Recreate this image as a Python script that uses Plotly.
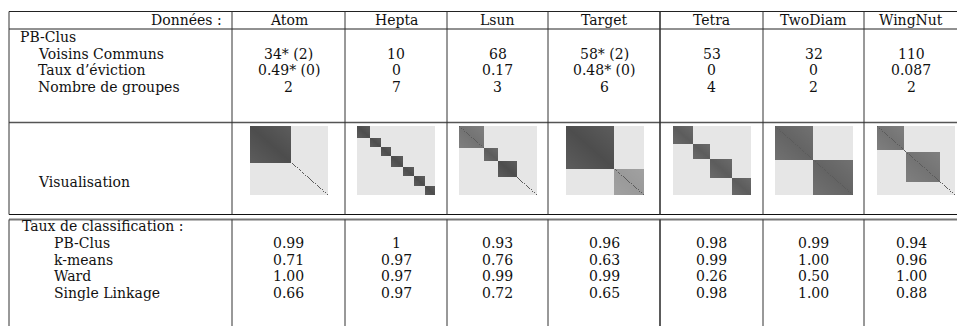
import numpy as np
import plotly.graph_objects as go

# ---------------- data ----------------
datasets = ["Atom", "Hepta", "Lsun", "Target", "Tetra", "TwoDiam", "WingNut"]
top_labels = ["Voisins Communs", "Taux d\u2019éviction", "Nombre de groupes"]
voisins = ["34* (2)", "10", "68", "58* (2)", "53", "32", "110"]
eviction = ["0.49* (0)", "0", "0.17", "0.48* (0)", "0", "0", "0.087"]
groupes = ["2", "7", "3", "6", "4", "2", "2"]
methods = ["PB-Clus", "k-means", "Ward", "Single Linkage"]
rate_pbclus = ["0.99", "1", "0.93", "0.96", "0.98", "0.99", "0.94"]
rate_kmeans = ["0.71", "0.97", "0.76", "0.63", "0.99", "1.00", "0.96"]
rate_ward = ["1.00", "0.97", "0.99", "0.99", "0.26", "0.50", "1.00"]
rate_single = ["0.66", "0.97", "0.72", "0.65", "0.98", "1.00", "0.88"]

# block structure of the similarity-matrix thumbnails (percent sizes, darkness)
block_sizes = {
    "Atom": [53, 47],
    "Hepta": [17, 14, 13, 15, 14, 14, 13],
    "Lsun": [32, 18, 24, 26],
    "Target": [62, 38],
    "Tetra": [26, 22, 27, 25],
    "TwoDiam": [49, 51],
    "WingNut": [35, 2, 44, 19],
}
block_levels = {
    "Atom": [1.0, 0.0],
    "Hepta": [1.0] * 7,
    "Lsun": [0.75, 0.9, 1.0, 0.0],
    "Target": [1.0, 0.5],
    "Tetra": [0.9, 0.9, 0.9, 0.9],
    "TwoDiam": [0.85, 0.85],
    "WingNut": [0.75, 0.0, 0.75, 0.0],
}

# ---------------- layout geometry (pixels) ----------------
W, H = 957, 326
col_edges = [9, 232, 345, 447, 548, 660, 763, 864, 957]
centers = [(col_edges[i + 1] + col_edges[i + 2]) / 2 for i in range(7)]
centers[-1] = 911

fig = go.Figure()
fig.add_trace(go.Scatter(x=[0, W], y=[0, H], mode="markers",
                         marker=dict(opacity=0), hoverinfo="skip", showlegend=False))

FONT = dict(family="DejaVu Serif", size=14, color="#111")
ann = []


def txt(x, y, s, anchor="center"):
    ann.append(dict(x=x, y=y, xref="x", yref="y", text=s, showarrow=False,
                    xanchor=anchor, yanchor="middle", font=FONT, borderpad=0))


# header
txt(223, 20, "Données :", "right")
for c, d in zip(centers, datasets):
    txt(c, 20, d)
txt(19, 37, "PB-Clus", "left")
rows_y = [53.5, 70, 86.5]
for y, lab, vals in zip(rows_y, top_labels, [voisins, eviction, groupes]):
    txt(37, y, lab, "left")
    for c, v in zip(centers, vals):
        txt(c, y, v)
txt(37, 182, "Visualisation", "left")

txt(21, 226, "Taux de classification :", "left")
bottom_y = [243, 259.5, 276, 292.5]
for y, lab, vals in zip(bottom_y, methods, [rate_pbclus, rate_kmeans, rate_ward, rate_single]):
    txt(53, y, lab, "left")
    for c, v in zip(centers, vals):
        txt(c, y, v)

# lines
shapes = []


def line(x0, y0, x1, y1, color="#222", width=1):
    shapes.append(dict(type="line", xref="x", yref="y", x0=x0, y0=y0, x1=x1, y1=y1,
                       line=dict(color=color, width=width)))


for y in [11.5, 29]:
    line(9, y, W, y)
line(9, 122.5, W, 122.5, "#555", 1.5)
line(9, 214.5, W, 214.5, "#111", 1.2)
line(9, 219.5, W, 219.5, "#777", 1.8)
for x in col_edges[:-1]:
    wdt = 1.6 if x == 660 else 1
    line(x, 11.5, x, 214.5, "#333", wdt)
    line(x, 219.5, x, H, "#333", wdt)

# thumbnails
img_x = [250, 357, 459, 566, 673, 775, 877]
img_w, y0, y1 = 78, 126, 195
colorscale = [[0, "#e6e6e6"], [1, "#4d4d4d"]]
for k, d in enumerate(datasets):
    sizes = block_sizes[d]
    levels = block_levels[d]
    n = sum(sizes)
    lab = np.concatenate([[b] * s for b, s in enumerate(sizes)])
    pos = np.concatenate([np.arange(s) / max(s - 1, 1) for s in sizes])
    lv = np.array(levels)[lab]
    same = lab[:, None] == lab[None, :]
    closeness = 1 - np.abs(pos[:, None] - pos[None, :])
    z = np.where(same, lv[:, None] * (0.9 + 0.1 * closeness), 0.0)
    z[np.arange(n), np.arange(n)] = np.maximum(z[np.arange(n), np.arange(n)], 0.9)
    ax = k + 2
    fig.add_trace(go.Heatmap(z=z, colorscale=colorscale, zmin=0, zmax=1, showscale=False,
                             xaxis=f"x{ax}", yaxis=f"y{ax}", hoverinfo="skip"))
    xa = img_x[k]
    fig.layout[f"xaxis{ax}"] = dict(domain=[xa / W, (xa + img_w) / W], visible=False,
                                    anchor=f"y{ax}", range=[-0.5, n - 0.5])
    fig.layout[f"yaxis{ax}"] = dict(domain=[1 - y1 / H, 1 - y0 / H], visible=False,
                                    anchor=f"x{ax}", range=[n - 0.5, -0.5])

fig.update_layout(
    width=W, height=H, margin=dict(l=0, r=0, t=0, b=0),
    paper_bgcolor="white", plot_bgcolor="white",
    xaxis=dict(range=[0, W], visible=False, domain=[0, 1], fixedrange=True),
    yaxis=dict(range=[H, 0], visible=False, domain=[0, 1], fixedrange=True),
    annotations=ann, shapes=shapes, showlegend=False,
)
fig.write_html("out.html", config={"displayModeBar": False},
               post_script="document.body.style.margin='0';document.body.style.overflow='hidden';")
